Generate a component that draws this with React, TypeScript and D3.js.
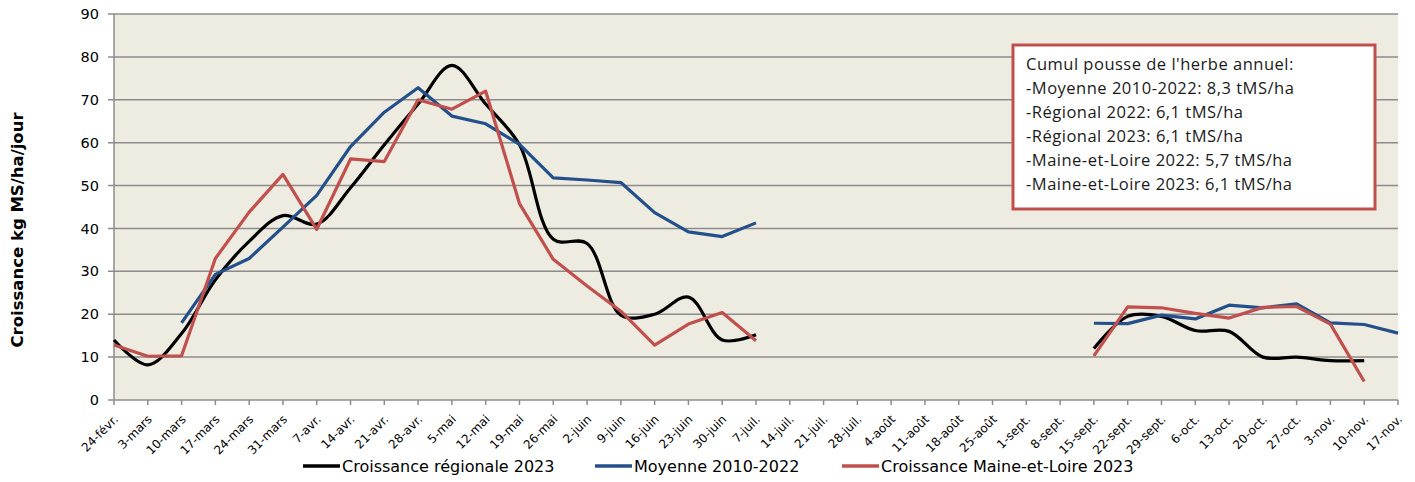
import { useEffect, useRef } from 'react';
import * as d3 from 'd3';

const weeks = [
  '24-févr.', '3-mars', '10-mars', '17-mars', '24-mars', '31-mars', '7-avr.', '14-avr.', '21-avr.', '28-avr.',
  '5-mai', '12-mai', '19-mai', '26-mai', '2-juin', '9-juin', '16-juin', '23-juin', '30-juin', '7-juil.',
  '14-juil.', '21-juil.', '28-juil.', '4-août', '11-août', '18-août', '25-août', '1-sept.', '8-sept.', '15-sept.',
  '22-sept.', '29-sept.', '6-oct.', '13-oct.', '20-oct.', '27-oct.', '3-nov.', '10-nov.', '17-nov.',
];

// null = pas de mesure
const regional2023 = [
  14, 8.2, 15.5, 28, 37, 43, 41, 49.5, 59.5, 69, 78, 69, 59.5, 37.5, 36.5, 19.8, 20, 24, 14, 15.2,
  null, null, null, null, null, null, null, null, null, 12,
  19.5, 19.5, 16.2, 16, 10, 10, 9.2, 9.2, null,
];
const moyenne = [
  null, null, 18, 29.3, 33, 40.3, 47.7, 59.1, 67.1, 72.8, 66.2, 64.4, 59.6, 51.8, 51.3, 50.7, 43.7, 39.2, 38.1, 41.3,
  null, null, null, null, null, null, null, null, null, 17.9,
  17.8, 19.8, 18.9, 22.1, 21.5, 22.4, 18, 17.6, 15.6,
];
const maineEtLoire2023 = [
  12.8, 10.2, 10.3, 33, 43.8, 52.6, 39.8, 56.2, 55.6, 70, 67.8, 72, 45.8, 32.8, 26.6, 20.7, 12.8, 17.7, 20.4, 13.8,
  null, null, null, null, null, null, null, null, null, 10.3,
  21.7, 21.5, 20.2, 19.1, 21.6, 21.8, 17.7, 4.3, null,
];

const yTicks = [0, 10, 20, 30, 40, 50, 60, 70, 80, 90];

const note = [
  "Cumul pousse de l'herbe annuel:",
  '-Moyenne 2010-2022: 8,3 tMS/ha',
  '-Régional 2022: 6,1 tMS/ha',
  '-Régional 2023: 6,1 tMS/ha',
  '-Maine-et-Loire 2022: 5,7 tMS/ha',
  '-Maine-et-Loire 2023: 6,1 tMS/ha',
];

export default function App() {
  const svgRef = useRef<SVGSVGElement>(null);

  useEffect(() => {
    const width = 1415;
    const height = 482;
    const margin = { top: 14, right: 17, bottom: 82, left: 114 };
    const font = 'DejaVu Sans, Verdana, sans-serif';

    const svg = d3.select(svgRef.current);
    svg.selectAll('*').remove();
    svg.attr('width', width).attr('height', height);

    const x = d3
      .scalePoint<string>()
      .domain(weeks)
      .range([margin.left, width - margin.right]);
    const y = d3
      .scaleLinear()
      .domain([0, 90])
      .range([height - margin.bottom, margin.top]);

    // fond de la zone de tracé
    svg
      .append('rect')
      .attr('x', margin.left)
      .attr('y', margin.top)
      .attr('width', width - margin.right - margin.left)
      .attr('height', y(0) - margin.top)
      .attr('fill', '#eeebe0');

    // grille + ticks y
    svg
      .append('g')
      .selectAll('line')
      .data(yTicks.filter((t) => t > 0))
      .enter()
      .append('line')
      .attr('x1', margin.left - 6)
      .attr('x2', width - margin.right)
      .attr('y1', (d) => y(d))
      .attr('y2', (d) => y(d))
      .attr('stroke', '#8c8c8c')
      .attr('stroke-width', 1.5);

    svg
      .append('g')
      .selectAll('text')
      .data(yTicks)
      .enter()
      .append('text')
      .attr('x', margin.left - 15)
      .attr('y', (d) => y(d))
      .attr('dy', '0.35em')
      .attr('text-anchor', 'end')
      .attr('font-family', font)
      .attr('font-size', 14.5)
      .attr('fill', '#000')
      .text((d) => d);

    // axes
    svg
      .append('line')
      .attr('x1', margin.left)
      .attr('x2', margin.left)
      .attr('y1', margin.top)
      .attr('y2', y(0))
      .attr('stroke', '#8c8c8c')
      .attr('stroke-width', 1.5);
    svg
      .append('line')
      .attr('x1', margin.left - 6)
      .attr('x2', width - margin.right)
      .attr('y1', y(0))
      .attr('y2', y(0))
      .attr('stroke', '#8c8c8c')
      .attr('stroke-width', 1.5);

    const xg = svg.append('g');
    xg.selectAll('line')
      .data(weeks)
      .enter()
      .append('line')
      .attr('x1', (d) => x(d)!)
      .attr('x2', (d) => x(d)!)
      .attr('y1', y(0))
      .attr('y2', y(0) + 5)
      .attr('stroke', '#8c8c8c')
      .attr('stroke-width', 1.5);
    xg.selectAll('text')
      .data(weeks)
      .enter()
      .append('text')
      .attr('transform', (d) => `translate(${x(d)! + 5},${y(0) + 20}) rotate(-45)`)
      .attr('text-anchor', 'end')
      .attr('font-family', font)
      .attr('font-size', 12)
      .attr('fill', '#000')
      .text((d) => d);

    // titre axe y
    svg
      .append('text')
      .attr('transform', 'translate(17,230) rotate(-90)')
      .attr('dy', '0.35em')
      .attr('text-anchor', 'middle')
      .attr('font-family', font)
      .attr('font-size', 16.5)
      .attr('font-weight', 'bold')
      .text('Croissance kg MS/ha/jour');

    const series = [
      { name: 'Croissance régionale 2023', values: regional2023, color: '#000000', smooth: true },
      { name: 'Moyenne 2010-2022', values: moyenne, color: '#23508a', smooth: false },
      { name: 'Croissance Maine-et-Loire 2023', values: maineEtLoire2023, color: '#c0504d', smooth: false },
    ];

    const plot = svg.append('g');
    series.forEach((s) => {
      const line = d3
        .line<number | null>()
        .defined((d) => d !== null)
        .x((_, i) => x(weeks[i])!)
        .y((d) => y(d as number))
        .curve(s.smooth ? d3.curveCatmullRom.alpha(0.5) : d3.curveLinear);
      plot
        .append('path')
        .datum(s.values)
        .attr('d', line)
        .attr('fill', 'none')
        .attr('stroke', s.color)
        .attr('stroke-width', 3.2)
        .attr('stroke-linejoin', 'round');
    });

    // légende
    const legendX = [303, 595, 842];
    const legend = svg.append('g');
    series.forEach((s, i) => {
      const g = legend.append('g').attr('transform', `translate(${legendX[i]},466)`);
      g.append('line')
        .attr('x1', 0)
        .attr('x2', 37)
        .attr('stroke', s.color)
        .attr('stroke-width', 3.5);
      g.append('text')
        .attr('x', 39)
        .attr('dy', '0.35em')
        .attr('font-family', font)
        .attr('font-size', 16)
        .text(s.name);
    });

    // encadré cumul
    const box = svg.append('g').attr('transform', 'translate(1013,45)');
    box
      .append('rect')
      .attr('width', 362)
      .attr('height', 164)
      .attr('fill', '#fff')
      .attr('stroke', '#c0504d')
      .attr('stroke-width', 3);
    box
      .selectAll('text')
      .data(note)
      .enter()
      .append('text')
      .attr('x', 13)
      .attr('y', (_, i) => 25 + i * 24)
      .attr('font-family', 'Open Sans, sans-serif')
      .attr('font-size', 16.5)
      .attr('letter-spacing', 0.5)
      .attr('fill', '#1a1a1a')
      .text((d) => d);
  }, []);

  return (
    <div>
      <svg ref={svgRef} style={{ position: 'absolute', left: 0, top: 0 }}></svg>
    </div>
  );
}
